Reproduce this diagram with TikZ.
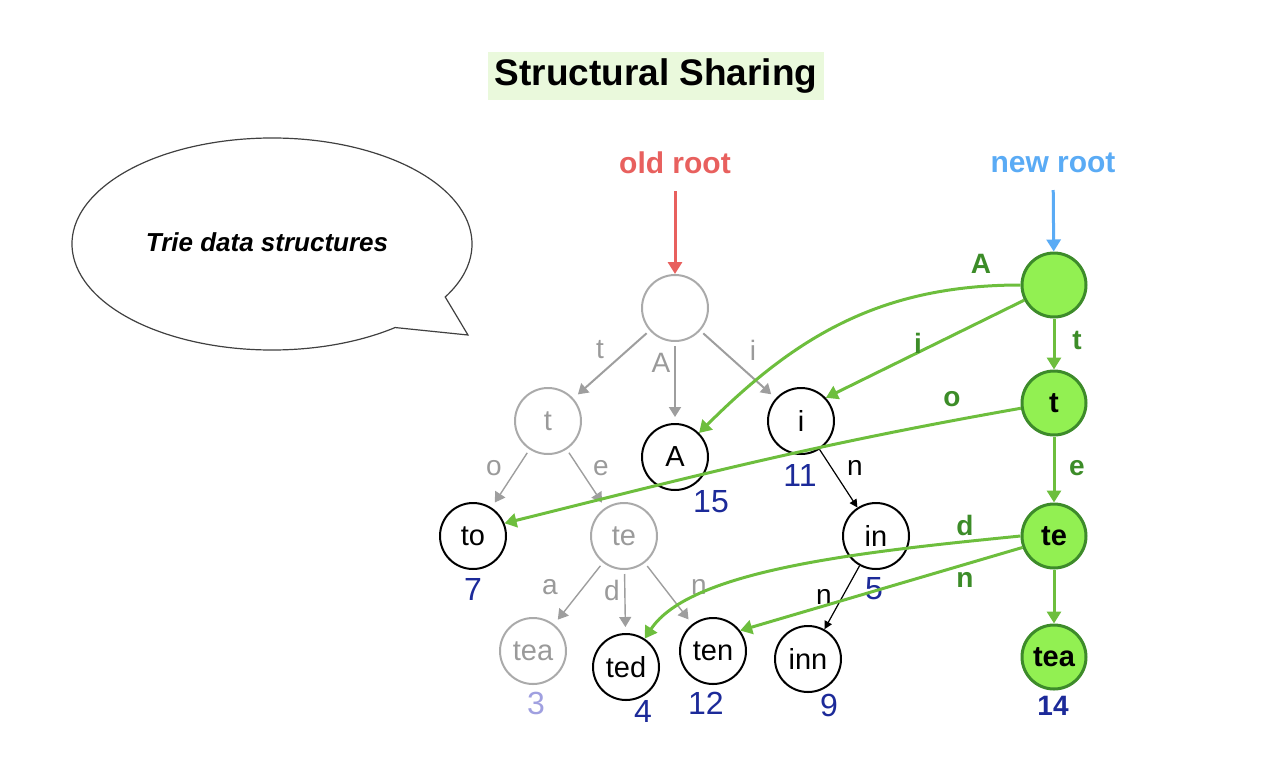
\documentclass[tikz,border=0pt]{standalone}
\usepackage{fontspec}
\setmainfont{Liberation Sans}
\usetikzlibrary{arrows.meta}
\definecolor{oldred}{HTML}{E8605E}
\definecolor{newblue}{HTML}{5AABF5}
\definecolor{oldgrey}{HTML}{AAAAAA}
\definecolor{oldline}{HTML}{9E9E9E}
\definecolor{oldtext}{HTML}{9A9A9A}
\definecolor{countblue}{HTML}{1C2A99}
\definecolor{fadedblue}{HTML}{A0A0E0}
\definecolor{newline}{HTML}{6DBE3D}
\definecolor{newtext}{HTML}{3C8C28}
\definecolor{newfill}{HTML}{92F052}
\definecolor{newborder}{HTML}{3D8B2A}
\definecolor{titlebg}{HTML}{EAF9DC}
\begin{document}
\begin{tikzpicture}[x=0.5pt, y=-0.5pt]
    % Styles
    \tikzset{
        oldnode/.style={circle, draw=oldgrey, text=oldtext, line width=1pt,
                       minimum size=33pt, inner sep=0pt,
                       font=\fontsize{14.5}{16}\selectfont},
        keptnode/.style={oldnode, draw=black, text=black},
        newnode/.style={circle, draw=newborder, fill=newfill, line width=1.5pt,
                       minimum size=32pt, inner sep=0pt,
                       font=\fontsize{14.5}{16}\selectfont\bfseries},
        oldedge/.style={draw=oldline, line width=1pt,
                       -{Triangle[length=5pt,width=6pt]},
                       shorten >=3pt, shorten <=2pt},
        keptedge/.style={draw=black, line width=0.6pt,
                        -{Triangle[length=4pt,width=4pt]}},
        newedge/.style={draw=newline, line width=1.5pt,
                       -{Triangle[length=6pt,width=7pt]}},
        oldlabel/.style={text=oldtext, font=\fontsize{14}{16}\selectfont},
        keptlabel/.style={text=black, font=\fontsize{14}{16}\selectfont},
        newlabel/.style={text=newtext, font=\fontsize{14}{16}\selectfont\bfseries},
        count/.style={text=countblue, font=\fontsize{16}{18}\selectfont}
    }
    \useasboundingbox (0,0) rectangle (1281,778);

    % Title
    \node[fill=titlebg, minimum width=164pt, minimum height=24pt,
          font=\fontsize{18.5}{20}\selectfont\bfseries] (title) at (656,76)
        {Structural Sharing};

    % Speech bubble
    \draw[line width=0.6pt, draw=black!75] (272,244) ++(-30:100pt and 53pt)
        arc[start angle=-30, end angle=308, x radius=100pt, y radius=53pt]
        -- (468,335) -- cycle;
    \node[font=\fontsize{13}{15}\selectfont\bfseries\itshape] (bubble) at (267,242)
        {Trie data structures};

    % Roots
    \node[text=oldred, font=\fontsize{15}{17}\selectfont\bfseries] (oldtag) at (675,163) {old root};
    \node[text=newblue, font=\fontsize{15}{17}\selectfont\bfseries] (newtag) at (1053,163) {new root};

    % Old trie
    \node[oldnode] (oroot) at (675,308) {};
    \node[oldnode] (wt) at (548,421) {t};
    \node[keptnode] (wA) at (675,457) {A};
    \node[keptnode] (wi) at (801,421) {i};
    \node[keptnode] (wto) at (473,536) {to};
    \node[oldnode] (wte) at (624,536) {te};
    \node[keptnode] (win) at (876,536) {in};
    \node[oldnode] (wtea) at (533,651) {tea};
    \node[keptnode] (wted) at (626,667) {ted};
    \node[keptnode] (wten) at (713,651) {ten};
    \node[keptnode] (winn) at (808,659) {inn};

    % New path
    \node[newnode] (nroot) at (1054,285) {};
    \node[newnode] (nt) at (1054,403) {t};
    \node[newnode] (nte) at (1054,536) {te};
    \node[newnode] (ntea) at (1054,657) {tea};

    % Counts
    \node[count] (c15) at (711,502) {15};
    \node[count] (c11) at (800,475) {11};
    \node[count] (c7) at (473,589) {7};
    \node[count] (c5) at (874,589) {5};
    \node[count, text=fadedblue] (c3) at (536,703) {3};
    \node[count] (c4) at (643,711) {4};
    \node[count] (c12) at (706,703) {12};
    \node[count] (c9) at (829,705) {9};
    \node[count, font=\fontsize{14}{16}\selectfont\bfseries] (c14) at (1053,706) {14};

    % Root arrows
    \draw[oldred, line width=1.5pt, -{Triangle[length=6pt,width=7pt]}, shorten <=5pt]
        (oldtag) -- (oroot);
    \draw[newblue, line width=1.5pt, -{Triangle[length=6pt,width=7pt]}, shorten <=5pt]
        (newtag) -- (nroot);

    % Old edges
    \draw[oldedge] (oroot) -- (wt);
    \draw[oldedge] (oroot) -- (wA);
    \draw[oldedge] (oroot) -- (wi);
    \draw[oldedge, line width=0.7pt] (wt) -- (wto);
    \draw[oldedge, line width=0.7pt] (wt) -- (wte);
    \draw[oldedge, line width=0.7pt] (wte) -- (wtea);
    \draw[oldedge, line width=0.7pt] (wte) -- (wted);
    \draw[oldedge, line width=0.7pt] (wte) -- (wten);
    \draw[keptedge] (wi) -- (win);
    \draw[keptedge] (win) -- (winn);

    % Old labels
    \node[oldlabel] (lt) at (600,350) {t};
    \node[oldlabel] (lA) at (661,363) {A};
    \node[oldlabel] (li) at (753,350) {i};
    \node[oldlabel] (lo) at (494,468) {o};
    \node[oldlabel] (le) at (601,468) {e};
    \node[oldlabel] (la) at (550,587) {a};
    \node[oldlabel] (ld) at (612,590) {d};
    \node[oldlabel] (ln) at (699,587) {n};
    \node[keptlabel] (lin) at (855,468) {n};
    \node[keptlabel] (linn) at (824,597) {n};

    % New edges
    \draw[newedge] (nroot) to[out=180, in=45] (wA);
    \draw[newedge] (nroot.207) -- (wi.43);
    \draw[newedge] (nroot) -- (nt);
    \draw[newedge] (nt.189) to[out=190, in=14] (wto.22);
    \draw[newedge] (nt) -- (nte);
    \draw[newedge] (nte.west) .. controls (860,552) and (690,570) .. (wted);
    \draw[newedge] (nte.200) -- (wten.37);
    \draw[newedge] (nte) -- (ntea);

    % New labels
    \node[newlabel] (nlA) at (981,264) {A};
    \node[newlabel] (nli) at (918,343) {i};
    \node[newlabel] (nlt) at (1077,340) {t};
    \node[newlabel] (nlo) at (952,399) {o};
    \node[newlabel] (nle) at (1077,468) {e};
    \node[newlabel] (nld) at (965,525) {d};
    \node[newlabel] (nln) at (965,580) {n};
\end{tikzpicture}
\end{document}
